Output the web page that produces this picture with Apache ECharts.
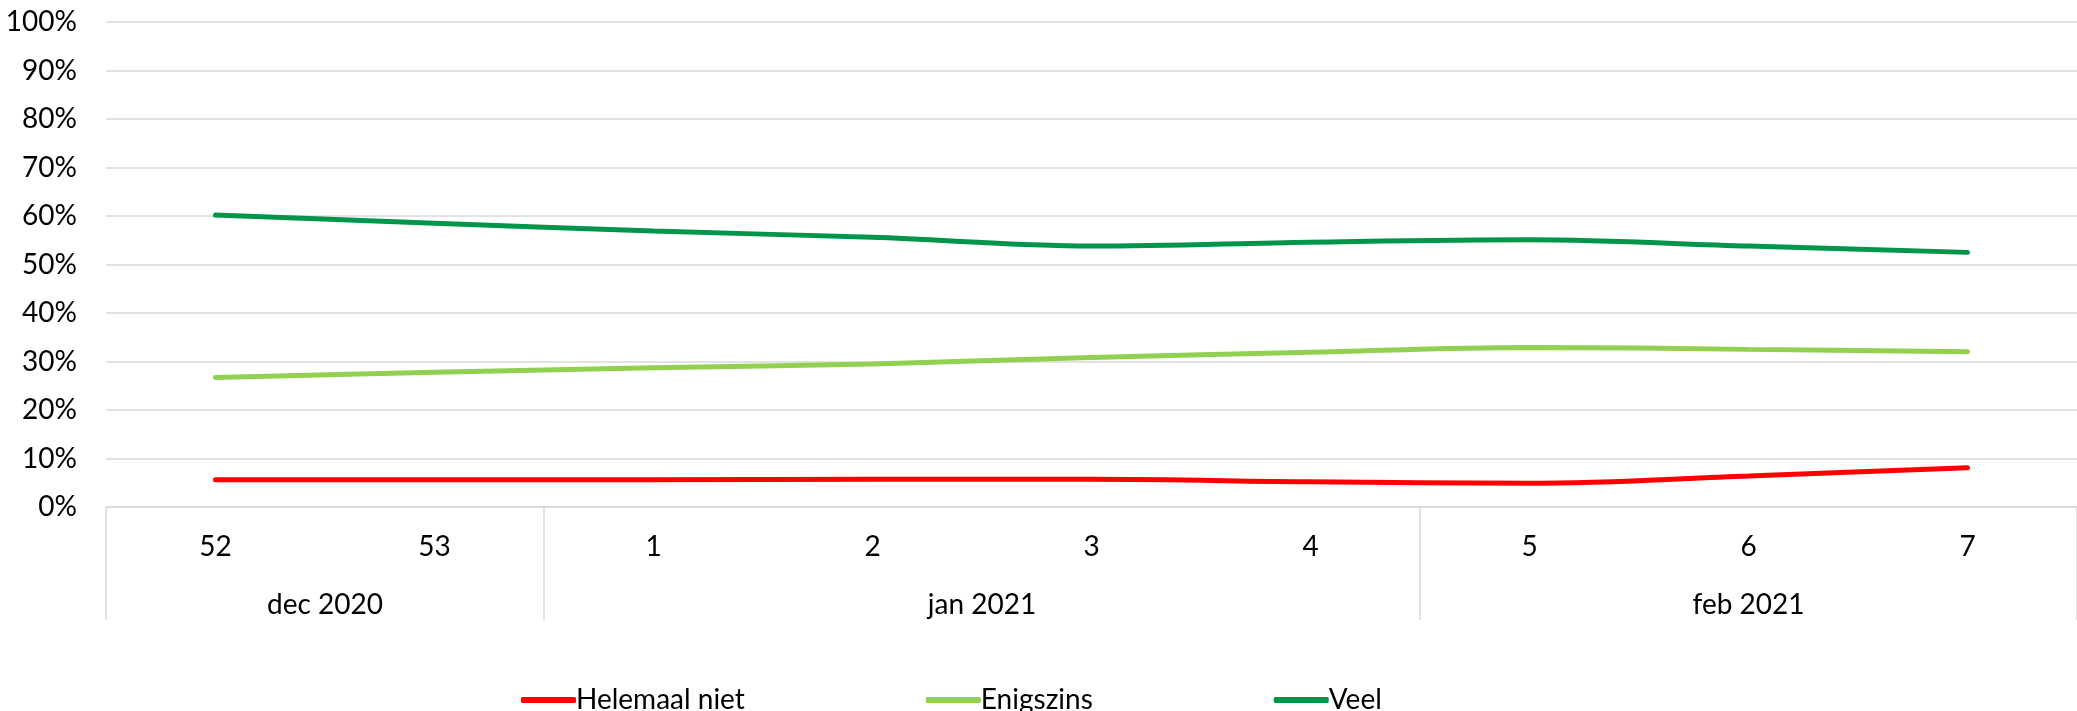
<!DOCTYPE html>
<html>
<head>
<meta charset="utf-8">
<title>Helemaal niet / Enigszins / Veel</title>
<script src="https://cdn.jsdelivr.net/npm/echarts@6/dist/echarts.min.js"></script>
<style>
    html, body { margin: 0; padding: 0; background: #fff; }
    #chart { width: 2077px; height: 711px; }
</style>
</head>
<body>
<div id="chart"></div>
<script>
// weeknummers en maanden
const weeks = ['52', '53', '1', '2', '3', '4', '5', '6', '7']
const months = ['dec 2020', 'jan 2021', 'feb 2021']
const monthWeeks = [2, 4, 3] // aantal weken per maand

// percentages per reeks
const helemaalNiet = [5.6, 5.6, 5.6, 5.7, 5.7, 5.2, 4.9, 6.4, 8.1]
const enigszins = [26.7, 27.8, 28.7, 29.5, 30.8, 31.9, 32.9, 32.5, 32.0]
const veel = [60.2, 58.5, 56.9, 55.6, 53.8, 54.6, 55.1, 53.8, 52.5]

const yTicks = [0, 10, 20, 30, 40, 50, 60, 70, 80, 90, 100]

const font = 'Lato, "Open Sans", sans-serif'
const gridColor = '#D9D9D9'

// grenzen en middens van de maandgroepen (in weken)
const bounds = [0]
const centers = []
monthWeeks.forEach((n, i) => {
    centers.push(bounds[i] + n / 2)
    bounds.push(bounds[i] + n)
})

const myChart = echarts.init(document.getElementById('chart'))
myChart.setOption({
    animation: false,
    textStyle: { fontFamily: font },
    grid: {
        left: 106,
        right: -8,
        top: 22,
        bottom: 204,
        containLabel: false
    },
    legend: {
        left: 516,
        top: 681,
        itemWidth: 55,
        itemHeight: 6,
        itemGap: 181,
        icon: 'roundRect',
        textStyle: { fontSize: 28, color: '#000', fontFamily: font, padding: [0, 0, 0, -5] },
        data: ['Helemaal niet', 'Enigszins', 'Veel']
    },
    xAxis: [
        {
            type: 'category',
            data: weeks,
            boundaryGap: true,
            axisLine: { show: true, lineStyle: { color: gridColor, width: 1.5 } },
            axisTick: { show: false },
            axisLabel: { fontSize: 28, color: '#000', margin: 26, interval: 0 }
        },
        {
            type: 'value',
            position: 'bottom',
            min: 0,
            max: weeks.length,
            axisLine: { show: false },
            splitLine: { show: false },
            axisTick: {
                show: true,
                customValues: bounds,
                length: 113,
                lineStyle: { color: gridColor, width: 1.5 }
            },
            axisLabel: {
                fontSize: 28,
                color: '#000',
                margin: 84,
                customValues: centers,
                formatter: (v) => {
                    const i = centers.indexOf(v)
                    return i >= 0 ? months[i] : ''
                }
            }
        }
    ],
    yAxis: {
        type: 'value',
        min: 0,
        max: 100,
        interval: 10,
        axisLine: { show: false },
        axisTick: { show: false },
        axisLabel: {
            fontSize: 28,
            color: '#000',
            margin: 29,
            formatter: (v) => yTicks.includes(v) ? v + '%' : ''
        },
        splitLine: { lineStyle: { color: gridColor, width: 1.5 } }
    },
    series: [
        {
            name: 'Helemaal niet',
            type: 'line',
            data: helemaalNiet,
            smooth: 0.35,
            showSymbol: false,
            color: '#FF0000',
            lineStyle: { width: 5, cap: 'round' }
        },
        {
            name: 'Enigszins',
            type: 'line',
            data: enigszins,
            smooth: 0.35,
            showSymbol: false,
            color: '#92D050',
            lineStyle: { width: 5, cap: 'round' }
        },
        {
            name: 'Veel',
            type: 'line',
            data: veel,
            smooth: 0.35,
            showSymbol: false,
            color: '#00964A',
            lineStyle: { width: 5, cap: 'round' }
        }
    ]
})
</script>
</body>
</html>
